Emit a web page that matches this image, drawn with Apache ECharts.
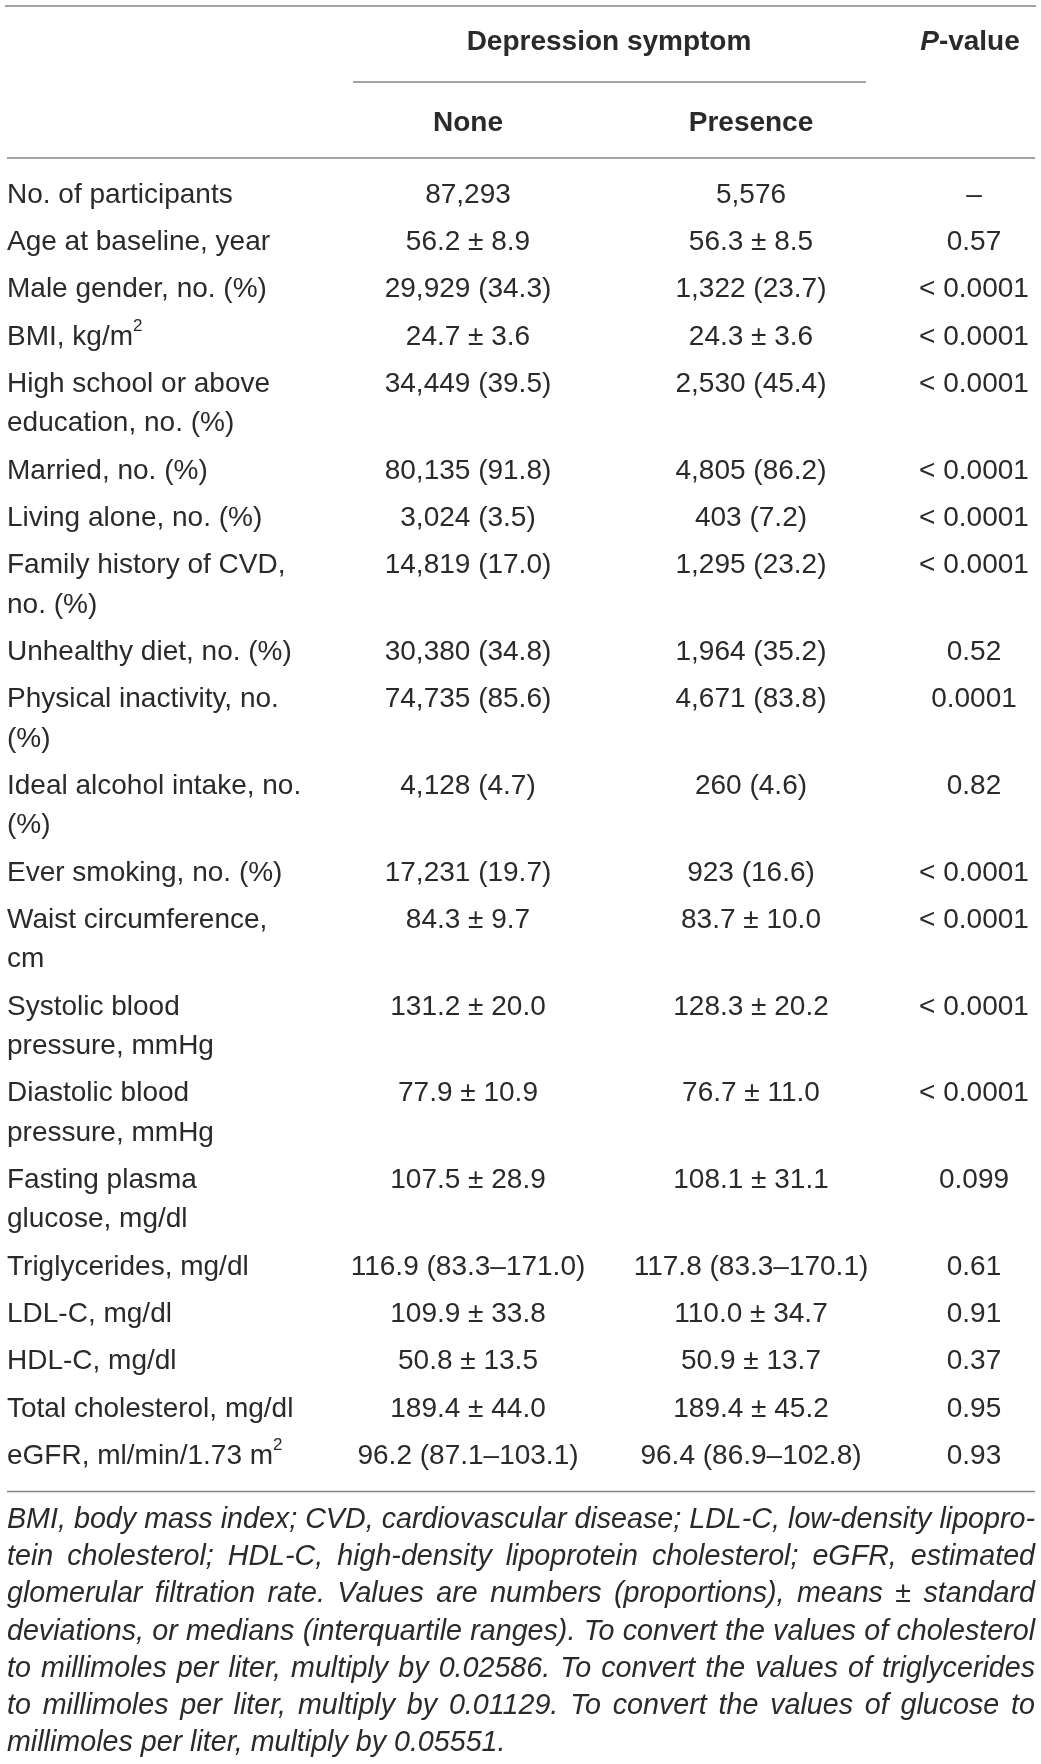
<!DOCTYPE html>
<html>
<head>
<meta charset="utf-8">
<script src="https://cdn.jsdelivr.net/npm/echarts@6/dist/echarts.min.js"></script>
<style>
	html,body{margin:0;padding:0;background:#fff}
	#main{width:1041px;height:1764px}
</style>
</head>
<body>
<div id="main"></div>
<script type="text/javascript">

var groupTitle = 'Depression symptom';
var pTitle = 'P-value';
var columnTitles = ['None', 'Presence'];

var rowLabels = [
	'No. of participants',
	'Age at baseline, year',
	'Male gender, no. (%)',
	'BMI, kg/m\u00b2',
	'High school or above\neducation, no. (%)',
	'Married, no. (%)',
	'Living alone, no. (%)',
	'Family history of CVD,\nno. (%)',
	'Unhealthy diet, no. (%)',
	'Physical inactivity, no.\n(%)',
	'Ideal alcohol intake, no.\n(%)',
	'Ever smoking, no. (%)',
	'Waist circumference,\ncm',
	'Systolic blood\npressure, mmHg',
	'Diastolic blood\npressure, mmHg',
	'Fasting plasma\nglucose, mg/dl',
	'Triglycerides, mg/dl',
	'LDL-C, mg/dl',
	'HDL-C, mg/dl',
	'Total cholesterol, mg/dl',
	'eGFR, ml/min/1.73 m\u00b2'
];

var noneValues = [
	'87,293', '56.2 \u00b1 8.9', '29,929 (34.3)', '24.7 \u00b1 3.6', '34,449 (39.5)',
	'80,135 (91.8)', '3,024 (3.5)', '14,819 (17.0)', '30,380 (34.8)', '74,735 (85.6)',
	'4,128 (4.7)', '17,231 (19.7)', '84.3 \u00b1 9.7', '131.2 \u00b1 20.0', '77.9 \u00b1 10.9',
	'107.5 \u00b1 28.9', '116.9 (83.3\u2013171.0)', '109.9 \u00b1 33.8', '50.8 \u00b1 13.5',
	'189.4 \u00b1 44.0', '96.2 (87.1\u2013103.1)'
];

var presenceValues = [
	'5,576', '56.3 \u00b1 8.5', '1,322 (23.7)', '24.3 \u00b1 3.6', '2,530 (45.4)',
	'4,805 (86.2)', '403 (7.2)', '1,295 (23.2)', '1,964 (35.2)', '4,671 (83.8)',
	'260 (4.6)', '923 (16.6)', '83.7 \u00b1 10.0', '128.3 \u00b1 20.2', '76.7 \u00b1 11.0',
	'108.1 \u00b1 31.1', '117.8 (83.3\u2013170.1)', '110.0 \u00b1 34.7', '50.9 \u00b1 13.7',
	'189.4 \u00b1 45.2', '96.4 (86.9\u2013102.8)'
];

var pValues = [
	'\u2013', '0.57', '< 0.0001', '< 0.0001', '< 0.0001', '< 0.0001', '< 0.0001', '< 0.0001',
	'0.52', '0.0001', '0.82', '< 0.0001', '< 0.0001', '< 0.0001', '< 0.0001', '0.099',
	'0.61', '0.91', '0.37', '0.95', '0.93'
];

var footnoteLines = [
	'BMI, body mass index; CVD, cardiovascular disease; LDL-C, low-density lipopro-',
	'tein cholesterol; HDL-C, high-density lipoprotein cholesterol; eGFR, estimated',
	'glomerular filtration rate. Values are numbers (proportions), means \u00b1 standard',
	'deviations, or medians (interquartile ranges). To convert the values of cholesterol',
	'to millimoles per liter, multiply by 0.02586. To convert the values of triglycerides',
	'to millimoles per liter, multiply by 0.01129. To convert the values of glucose to',
	'millimoles per liter, multiply by 0.05551.'
];

var W = 1041, H = 1764;
var FONT = '"Liberation Sans", Arial, Helvetica, sans-serif';
var INK = '#2a2a2a', RULE = '#858585';
var FS = 28;
var rowStep = 47.35, lineStep = 39.3, firstRow = 195;
var leftX = 7, rightX = 1035;

// first-line centre of every row, stacked from the line counts
var rowY = [];
var cur = firstRow;
for (var i = 0; i < rowLabels.length; i++) {
	rowY.push(cur);
	cur += rowStep + (rowLabels[i].split('\n').length - 1) * lineStep;
}

var supRich = {
	sup: { fontSize: 17, lineHeight: 24, verticalAlign: 'top', fontFamily: FONT, fill: INK }
};

function textColumn(x, texts, align) {
	return {
		type: 'custom',
		coordinateSystem: 'cartesian2d',
		silent: true,
		animation: false,
		data: texts.map(function (t, i) { return [x, rowY[i]]; }),
		renderItem: function (params, api) {
			var p = api.coord([api.value(0), api.value(1)]);
			var t = texts[params.dataIndex].replace('\u00b2', '{sup|2}');
			return {
				type: 'text',
				x: p[0],
				y: p[1] - lineStep / 2,
				style: {
					text: t,
					align: align,
					verticalAlign: 'top',
					lineHeight: lineStep,
					fontSize: FS,
					fontFamily: FONT,
					fill: INK,
					rich: supRich
				}
			};
		}
	};
}

function rule(x1, x2, y) {
	return { type: 'line', silent: true, shape: { x1: x1, y1: y, x2: x2, y2: y }, style: { stroke: RULE, lineWidth: 1.6 } };
}

function headText(x, y, text, rich) {
	return {
		type: 'text', x: x, y: y, silent: true,
		style: {
			text: text, align: 'center', verticalAlign: 'middle', textAlign: 'center', textVerticalAlign: 'middle',
			fontSize: FS, fontWeight: 'bold', fontFamily: FONT, fill: INK, rich: rich
		}
	};
}

// justified footnote: size the type so the fullest line sets solid, then place word by word
var measure = document.createElement('canvas').getContext('2d');
measure.font = 'italic 25px ' + FONT;
var widest = 0;
footnoteLines.slice(0, -1).forEach(function (l) { widest = Math.max(widest, measure.measureText(l).width); });
var NOTE_FS = Math.min(29, 25 * (rightX - leftX) / widest);
measure.font = 'italic ' + NOTE_FS + 'px ' + FONT;

var noteGraphics = [];
footnoteLines.forEach(function (line, li) {
	var words = line.split(' ');
	var widths = words.map(function (w) { return measure.measureText(w).width; });
	var total = widths.reduce(function (a, b) { return a + b; }, 0);
	var last = li === footnoteLines.length - 1;
	var gap = last ? measure.measureText(' ').width : Math.max(2, (rightX - leftX - total) / (words.length - 1));
	var x = leftX;
	var y = 1520 + li * 37.25;
	words.forEach(function (w, wi) {
		noteGraphics.push({
			type: 'text', x: x, y: y, silent: true,
			style: {
				text: w, align: 'left', verticalAlign: 'middle', textAlign: 'left', textVerticalAlign: 'middle',
				fontSize: NOTE_FS, fontStyle: 'italic', fontFamily: FONT, fill: INK
			}
		});
		x += widths[wi] + gap;
	});
});

var option = {
	backgroundColor: '#fff',
	animation: false,
	grid: { left: 0, right: 0, top: 0, bottom: 0 },
	xAxis: { type: 'value', min: 0, max: W, show: false },
	yAxis: { type: 'value', min: 0, max: H, inverse: true, show: false },
	series: [
		textColumn(leftX, rowLabels, 'left'),
		textColumn(468, noneValues, 'center'),
		textColumn(751, presenceValues, 'center'),
		textColumn(974, pValues, 'center')
	],
	graphic: [
		rule(5, 1036, 6),
		rule(353, 866, 82),
		rule(7, 1035, 158),
		rule(7, 1035, 1491.5),
		headText(609, 42, groupTitle),
		headText(970, 42, '{i|P}' + pTitle.slice(1), {
			i: { fontSize: FS, fontWeight: 'bold', fontStyle: 'italic', fontFamily: FONT, fill: INK }
		}),
		headText(468, 123, columnTitles[0]),
		headText(751, 123, columnTitles[1])
	].concat(noteGraphics)
};

var myChart = echarts.init(document.getElementById('main'));
myChart.setOption(option);

</script>
</body>
</html>
